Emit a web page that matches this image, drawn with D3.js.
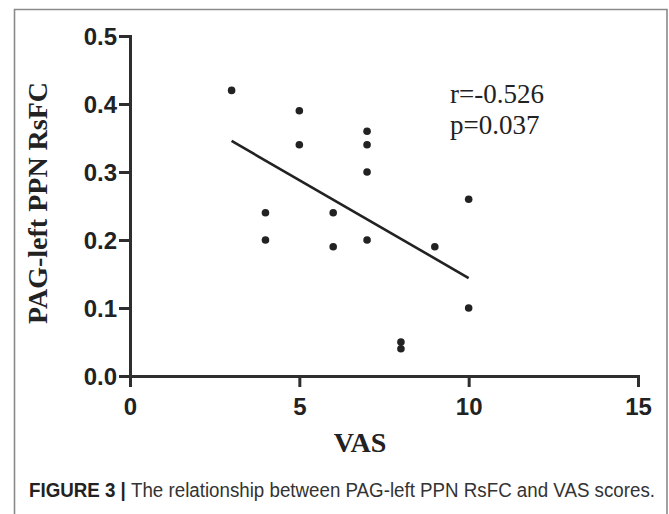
<!DOCTYPE html>
<html>
<head>
<meta charset="utf-8">
<script src="https://cdn.jsdelivr.net/npm/d3@7"></script>
<style>
  body { margin: 0; background: #fff; }
  svg { display: block; }
</style>
</head>
<body>
<div id="chart"></div>
<script>
// VAS score and PAG-left PPN RsFC per subject
const vas   = [3, 5, 5, 4, 4, 6, 6, 7, 7, 7, 7, 8, 8, 9, 10, 10];
const rsfc  = [0.42, 0.39, 0.34, 0.24, 0.20, 0.24, 0.19, 0.36, 0.34, 0.30, 0.20, 0.05, 0.04, 0.19, 0.26, 0.10];

const xTicks = [0, 5, 10, 15];
const yTicks = [0, 0.1, 0.2, 0.3, 0.4, 0.5];
const statLines = ['r=-0.526', 'p=0.037'];

const xAxisLabel = 'VAS';
const yAxisLabel = 'PAG-left PPN RsFC';
const captionBold = 'FIGURE 3 | ';
const captionText = 'The relationship between PAG-left PPN RsFC and VAS scores.';

const svgWidth = 669;
const svgHeight = 514;

const svg = d3.select('#chart')
  .append('svg')
    .attr('width', svgWidth)
    .attr('height', svgHeight);

// figure frame (open at the bottom)
svg.append('path')
    .attr('d', `M14.5,${svgHeight + 2} V9.5 H667 V${svgHeight + 2}`)
    .attr('fill', 'none')
    .attr('stroke', '#8a8a8a')
    .attr('stroke-width', 1.6);

const margin = { top: 36, left: 130 };
const innerWidth = 508;
const innerHeight = 340;

const data = vas.map((v, i) => ({ x: v, y: rsfc[i] }));

const xScale = d3.scaleLinear().domain([0, 15]).range([0, innerWidth]);
const yScale = d3.scaleLinear().domain([0, 0.5]).range([innerHeight, 0]);

const g = svg.append('g')
    .attr('transform', `translate(${margin.left},${margin.top})`);

const axisColor = '#2e2e2e';

const xAxisG = g.append('g')
    .attr('transform', `translate(0,${innerHeight})`)
    .call(d3.axisBottom(xScale).tickValues(xTicks).tickSize(11).tickPadding(11).tickFormat(d3.format('d')));

const yAxisG = g.append('g')
    .call(d3.axisLeft(yScale).tickValues(yTicks).tickSize(11).tickPadding(2).tickFormat(d3.format('.1f')));

[xAxisG, yAxisG].forEach(a => {
  a.attr('font-family', '"Liberation Sans", Arial, sans-serif')
   .attr('font-size', 24)
   .attr('font-weight', 'bold');
  a.selectAll('path, line')
      .attr('stroke', axisColor)
      .attr('stroke-width', 3);
  a.selectAll('text').attr('fill', '#222');
});

// place labels by pixel offsets instead of em offsets
xAxisG.selectAll('text').attr('dy', null).attr('y', 39);
yAxisG.selectAll('text').attr('dy', null).attr('y', 8.5);

// regression line fitted on the data
const mx = d3.mean(data, d => d.x);
const my = d3.mean(data, d => d.y);
const slope = d3.sum(data, d => (d.x - mx) * (d.y - my)) / d3.sum(data, d => (d.x - mx) ** 2);
const intercept = my - slope * mx;
const [xMin, xMax] = d3.extent(data, d => d.x);

g.append('line')
    .attr('x1', xScale(xMin))
    .attr('y1', yScale(intercept + slope * xMin))
    .attr('x2', xScale(xMax))
    .attr('y2', yScale(intercept + slope * xMax))
    .attr('stroke', '#222')
    .attr('stroke-width', 2.6);

g.selectAll('circle').data(data)
  .enter().append('circle')
    .attr('cx', d => xScale(d.x))
    .attr('cy', d => yScale(d.y))
    .attr('r', 3.8)
    .attr('fill', '#222');

// stats
g.append('g').selectAll('text').data(statLines)
  .enter().append('text')
    .attr('x', 320)
    .attr('y', (d, i) => 67 + i * 31)
    .attr('fill', '#222')
    .attr('font-family', '"Liberation Serif", "Times New Roman", serif')
    .attr('font-size', 27)
    .text(d => d);

// axis labels
svg.append('text')
    .attr('x', 360)
    .attr('y', 452)
    .attr('text-anchor', 'middle')
    .attr('fill', '#222')
    .attr('font-family', '"Liberation Serif", "Times New Roman", serif')
    .attr('font-weight', 'bold')
    .attr('font-size', 28)
    .text(xAxisLabel);

svg.append('text')
    .attr('transform', `translate(47,${margin.top + innerHeight / 2 - 3}) rotate(-90)`)
    .attr('text-anchor', 'middle')
    .attr('fill', '#222')
    .attr('font-family', '"Liberation Serif", "Times New Roman", serif')
    .attr('font-weight', 'bold')
    .attr('font-size', 28)
    .text(yAxisLabel);

// caption
const cap = svg.append('text')
    .attr('x', 29)
    .attr('y', 497)
    .attr('textLength', 626)
    .attr('lengthAdjust', 'spacingAndGlyphs')
    .attr('fill', '#333')
    .attr('font-family', '"Liberation Sans", Arial, sans-serif')
    .attr('font-size', 20);
cap.append('tspan').attr('font-weight', 'bold').attr('fill', '#222').text(captionBold);
cap.append('tspan').text(captionText);
</script>
</body>
</html>
